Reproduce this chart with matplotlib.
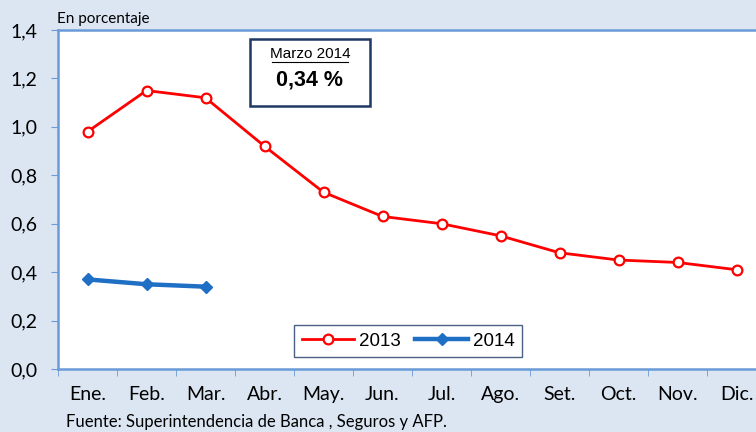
import matplotlib.pyplot as plt
import numpy as np

meses = ["Ene.", "Feb.", "Mar.", "Abr.", "May.", "Jun.",
         "Jul.", "Ago.", "Set.", "Oct.", "Nov.", "Dic."]
serie_2013 = [0.98, 1.15, 1.12, 0.92, 0.73, 0.63, 0.60, 0.55, 0.48, 0.45, 0.44, 0.41]
serie_2014 = [0.37, 0.35, 0.34]
y_ticks = [0.0, 0.2, 0.4, 0.6, 0.8, 1.0, 1.2, 1.4]

fondo = '#DCE6F2'
azul_eje = '#6A9BD8'

fig = plt.figure(figsize=(7.56, 4.32), dpi=100, facecolor=fondo)
# el area de trazado se sale un poco por la derecha, como en el original
ax = fig.add_axes([58 / 756, 1 - 369 / 432, 708 / 756, 339 / 432])
ax.set_facecolor('white')

x = np.arange(len(meses))
ax.plot(x, serie_2013, color='#FF0000', lw=2, marker='o', ms=7,
        mfc='white', mec='#FF0000', mew=1.6, label='2013', zorder=3)
ax.plot(x[:len(serie_2014)], serie_2014, color='#1F6FC5', lw=3.2, marker='D', ms=6,
        mfc='#1F6FC5', mec='#1F6FC5', label='2014', zorder=3)

ax.set_xlim(-0.5, len(meses) - 0.5)
ax.set_ylim(0, 1.4)
ax.set_yticks(y_ticks)
ax.set_yticklabels([('%.1f' % v).replace('.', ',') for v in y_ticks],
                   family='Lato', fontsize=14)
ax.set_xticks(x)
ax.set_xticklabels(meses, family='Lato', fontsize=14)
ax.set_xticks(np.arange(-0.5, len(meses), 1), minor=True)
ax.tick_params(axis='x', which='major', length=0, pad=12)
ax.tick_params(axis='x', which='minor', length=5, color=azul_eje, direction='out')
ax.tick_params(axis='y', length=5, color=azul_eje, direction='out', pad=10)

for lado in ['left', 'top', 'bottom']:
    ax.spines[lado].set_color(azul_eje)
    ax.spines[lado].set_linewidth(1.8)
ax.spines['right'].set_visible(False)

leg = ax.legend(loc='lower left', bbox_to_anchor=(236 / 708, 12 / 339), ncol=2,
                prop={'family': 'Liberation Sans', 'size': 13.5}, frameon=True,
                fancybox=False, handlelength=2.8, columnspacing=0.8,
                handletextpad=0.25, borderpad=0.4, borderaxespad=0)
leg.get_frame().set_edgecolor('#1F3864')
leg.get_frame().set_linewidth(1)

# recuadro con el dato de marzo 2014
caja = plt.Rectangle((250 / 756, 1 - 106 / 432), 120 / 756, 67 / 432,
                     transform=fig.transFigure, facecolor='white',
                     edgecolor='#1F3864', lw=1.8, zorder=5)
fig.patches.append(caja)
fig.text(310 / 756, 1 - 54 / 432, 'Marzo 2014', ha='center', va='center',
         family='Liberation Sans', fontsize=11, zorder=6)
fig.add_artist(plt.Line2D([272 / 756, 348 / 756], [1 - 62 / 432, 1 - 62 / 432],
                          color='black', lw=0.8, zorder=6))
fig.text(310 / 756, 1 - 80 / 432, '0,34 %', ha='center', va='center',
         family='Liberation Sans', fontsize=15.5, weight='bold', zorder=6)

fig.text(57 / 756, 1 - 19 / 432, 'En porcentaje', ha='left', va='center',
         family='Lato', fontsize=11)
fig.text(66 / 756, 1 - 422 / 432, 'Fuente: Superintendencia de Banca , Seguros y AFP.',
         ha='left', va='center', family='Lato', fontsize=12)

fig.savefig('out.png', dpi=100, facecolor=fondo)
